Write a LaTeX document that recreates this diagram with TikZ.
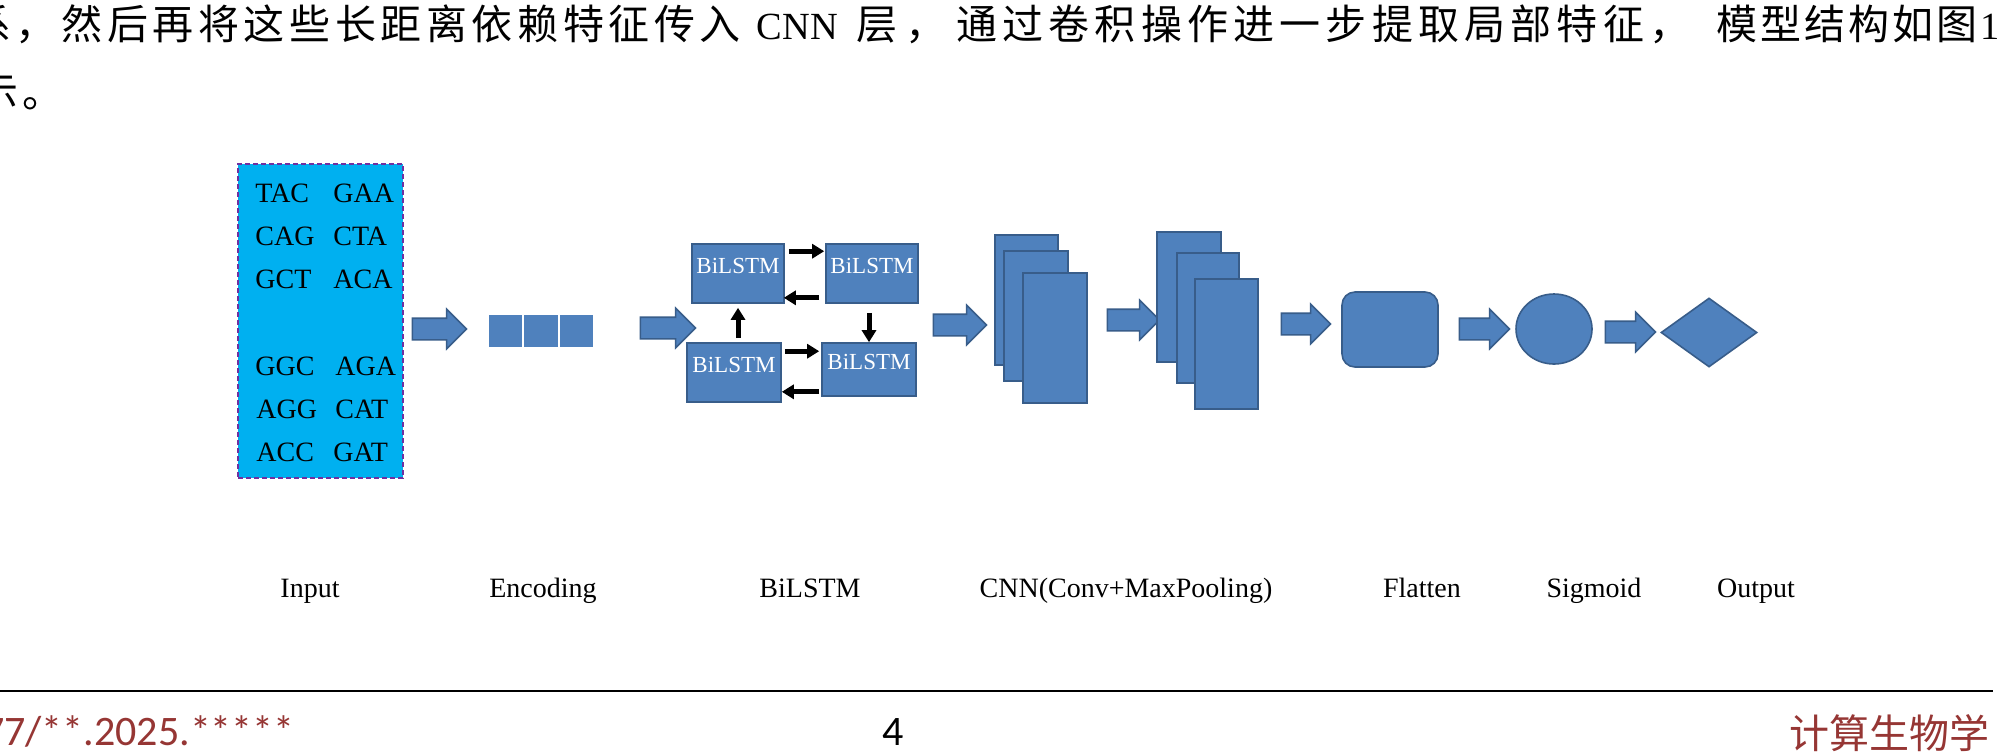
\documentclass[tikz,border=0pt]{standalone}
\usepackage{fontspec}
\setmainfont{Liberation Serif}
\newfontfamily\cjkfont{Noto Sans CJK SC}
\newfontfamily\calfont{Carlito}
\usetikzlibrary{shapes.geometric,shapes.arrows,arrows.meta,calc,fit}
\definecolor{blueF}{RGB}{79,129,189}
\definecolor{blueD}{RGB}{56,93,138}
\definecolor{cyanF}{RGB}{0,176,240}
\definecolor{purpB}{RGB}{112,48,160}
\definecolor{footred}{RGB}{150,54,52}
\newlength\cjpitch
\def\cjspaced#1{\cjspacedi#1\relax}
\def\cjspacedi#1{\ifx\relax#1\else\makebox[\cjpitch][l]{#1}\expandafter\cjspacedi\fi}
\tikzset{
  bshape/.style={draw=blueD, fill=blueF, line width=0.8pt, inner sep=0pt},
  lstm/.style={bshape, text=white, font=\fontsize{11.5}{12}\selectfont},
  barrow/.style={single arrow, draw=blueD, fill=blueF, line width=0.8pt, inner sep=0pt,
    text height=5pt, text depth=5pt, single arrow head extend=4.5pt, single arrow tip angle=90},
  sarrow/.style={line width=2.5pt, -{Triangle[length=6pt,width=7pt]}},
  seq/.style={anchor=base west, inner sep=0pt, font=\fontsize{14}{14}\selectfont},
  lab/.style={anchor=base, inner sep=0pt, font=\fontsize{14}{14}\selectfont},
  cjtext/.style={anchor=base west, inner sep=0pt, font=\cjkfont\fontsize{20.5}{21}\selectfont},
  lattext/.style={anchor=base, inner sep=0pt, font=\fontsize{19.2}{20}\selectfont},
  foot/.style={inner sep=0pt, font=\calfont\fontsize{21}{21}\selectfont},
}
\begin{document}
\begin{tikzpicture}[x=0.5pt,y=-0.5pt]
\useasboundingbox (0,0) rectangle (2000,751);
\clip (0,0) rectangle (2000,751);
\fill[white] (0,0) rectangle (2000,751);

% top running text
\node[cjtext] (t1a) at (-30,39) {\setlength\cjpitch{22.8pt}\cjspaced{系，然后再将这些长距离依赖特征传入}};
\node[lattext] (t1cnn) at (797.5,39) {CNN};
\node[cjtext] (t1b) at (856,39) {\setlength\cjpitch{24.5pt}\cjspaced{层，}};
\node[cjtext] (t1c) at (956,39) {\setlength\cjpitch{23.1pt}\cjspaced{通过卷积操作进一步提取局部特征，}};
\node[cjtext] (t1d) at (1716,39) {\setlength\cjpitch{22pt}\cjspaced{模型结构如图}};
\node[lattext, anchor=base west] (t1n) at (1980,39) {1};
\node[cjtext] (t2) at (-23,107) {\setlength\cjpitch{22.35pt}\cjspaced{示。}};

% input box
\node[fit={(238,164) (403,478)}, inner sep=0pt, fill=cyanF, draw=purpB, line width=1.2pt,
      dash pattern=on 2.5pt off 1.5pt] (inbox) {};
\node[seq] (s1) at (255,202) {TAC};
\node[seq] (s2) at (333,202) {GAA};
\node[seq] (s3) at (255,245) {CAG};
\node[seq] (s4) at (333,245) {CTA};
\node[seq] (s5) at (255,288) {GCT};
\node[seq] (s6) at (333,288) {ACA};
\node[seq] (s7) at (255,375) {GGC};
\node[seq] (s8) at (335,375) {AGA};
\node[seq] (s9) at (256,418) {AGG};
\node[seq] (s10) at (335,418) {CAT};
\node[seq] (s11) at (256,461) {ACC};
\node[seq] (s12) at (333,461) {GAT};

% block arrows
\node[barrow, minimum height=27pt] (ar1) at (434,329) {};
\node[barrow, minimum height=27.5pt] (ar2) at (662.5,328) {};
\node[barrow, minimum height=26.5pt] (ar3) at (954.5,325) {};
\node[barrow, minimum height=26pt] (ar4) at (1128,320) {};
\node[barrow, minimum height=24.5pt] (ar5) at (1300.5,324) {};
\node[barrow, minimum height=25pt] (ar6) at (1479,329) {};
\node[barrow, minimum height=25pt] (ar7) at (1625,332) {};

% encoding
\node[fit={(488,314) (523,348)}, inner sep=0pt, fill=blueF, draw=white, line width=0.6pt] (enc1) {};
\node[fit={(523,314) (559,348)}, inner sep=0pt, fill=blueF, draw=white, line width=0.6pt] (enc2) {};
\node[fit={(559,314) (594,348)}, inner sep=0pt, fill=blueF, draw=white, line width=0.6pt] (enc3) {};

% BiLSTM
\node[lstm, fit={(692,244) (784,303)}] (b1) {BiLSTM};
\node[lstm, fit={(826,244) (918,303)}] (b2) {BiLSTM};
\node[lstm, fit={(687,343) (781,402)}] (b3) {BiLSTM};
\node[lstm, fit={(822,343) (916,396)}] (b4) {BiLSTM};
\draw[sarrow] ($(b1.north east)+(4,8)$) -- ($(b2.north west)+(-1,8)$);
\draw[sarrow] ($(b2.south west)+(-6,-6)$) -- ($(b1.south east)+(-1,-6)$);
\draw[sarrow] ($(b1.south |- b3.north)+(0,-4)$) -- ($(b1.south)+(0,4)$);
\draw[sarrow] ($(b4.north |- b2.south)+(0,9)$) -- (b4.north);
\draw[sarrow] ($(b3.north east)+(3,9)$) -- ($(b4.north west)+(-2,9)$);
\draw[sarrow] ($(b4.south west)+(-2,-5)$) -- ($(b3.south east)+(0,-11)$);

% CNN stacks
\node[bshape, fit={(995,235) (1058,365)}] (c1) {};
\node[bshape, fit={(1004,251) (1068,381)}] (c2) {};
\node[bshape, fit={(1023,273) (1087,403)}] (c3) {};
\node[bshape, fit={(1157,232) (1221,362)}] (p1) {};
\node[bshape, fit={(1177,253) (1239,383)}] (p2) {};
\node[bshape, fit={(1195,279) (1258,409)}] (p3) {};

% flatten, sigmoid, output
\node[bshape, rounded corners=6.5pt, fit={(1342,292) (1438,367)}] (flat) {};
\node[bshape, ellipse, minimum width=38pt, minimum height=35pt] (sig) at (1554,329) {};
\node[bshape, diamond, minimum width=48pt, minimum height=34.5pt] (out) at (1709,332.5) {};

% labels
\node[lab] (lIn) at (310,597) {Input};
\node[lab] (lEnc) at (543,597) {Encoding};
\node[lab] (lBi) at (810,597) {BiLSTM};
\node[lab] (lCnn) at (1126,597) {CNN(Conv+MaxPooling)};
\node[lab] (lFl) at (1422,597) {Flatten};
\node[lab] (lSig) at (1594,597) {Sigmoid};
\node[lab] (lOut) at (1756,597) {Output};

% footer
\draw[line width=1.25pt] (0,691) -- (1993,691);
\node[foot, anchor=base east, text=footred] (doi) at (295,745) {77/**.2025.*****};
\node[foot, anchor=base] (pg) at (893,745) {4};
\node[anchor=base east, inner sep=0pt, text=footred, font=\cjkfont\fontsize{20}{20}\selectfont] (jn) at (1990,748) {计算生物学};
\end{tikzpicture}
\end{document}
